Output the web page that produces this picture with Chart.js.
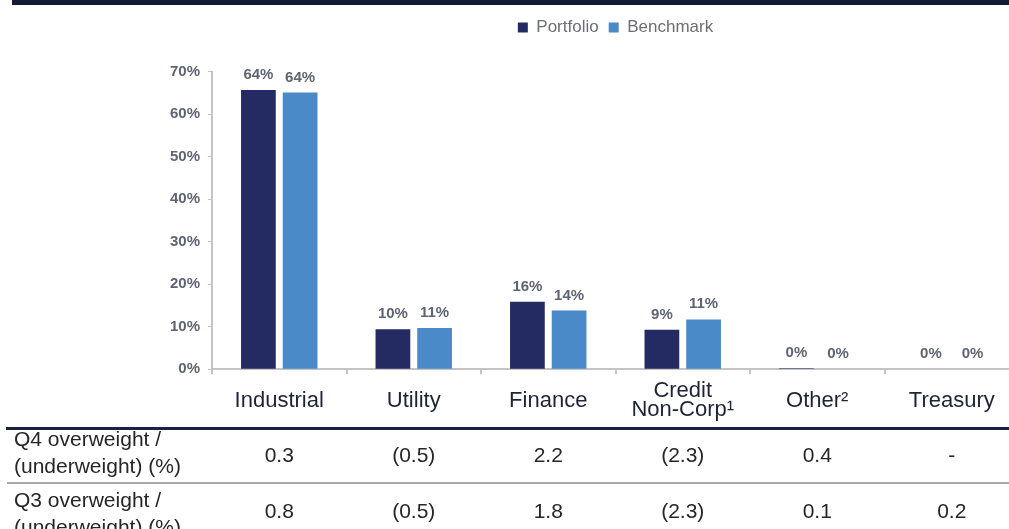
<!DOCTYPE html>
<html>
<head>
<meta charset="utf-8">
<script src="https://cdn.jsdelivr.net/npm/chart.js@4.4.1/dist/chart.umd.min.js"></script>
<style>
  html, body { margin: 0; padding: 0; background: #fff; overflow: hidden; }
  #wrap { width: 1022px; height: 529px; position: relative; }
</style>
</head>
<body>
<div id="wrap"><canvas id="myChart"></canvas></div>
<script>
const categories = ['Industrial', 'Utility', 'Finance', ['Credit', 'Non-Corp¹'], 'Other²', 'Treasury'];
const portfolio = [65.7, 9.4, 15.9, 9.3, 0.2, 0];
const benchmark = [65.1, 9.7, 13.8, 11.7, 0, 0];
// printed labels on top of the bars
const portfolioLabels = ['64%', '10%', '16%', '9%', '0%', '0%'];
const benchmarkLabels = ['64%', '11%', '14%', '11%', '0%', '0%'];
// overweight / (underweight) table, null = '-'
const q4Diff = [0.3, -0.5, 2.2, -2.3, 0.4, null];
const q3Diff = [0.8, -0.5, 1.8, -2.3, 0.1, 0.2];
const rowLabels = [['Q4 overweight /', '(underweight) (%)'], ['Q3 overweight /', '(underweight) (%)']];

Chart.defaults.font.family = "'Liberation Sans', Arial, sans-serif";

function fmtDiff(v) {
    if (v === null) return '-';
    return v < 0 ? '(' + Math.abs(v).toFixed(1) + ')' : v.toFixed(1);
}

const barLabels = {
    id: 'barLabels',
    afterDatasetsDraw(chart) {
        const ctx = chart.ctx;
        const texts = [portfolioLabels, benchmarkLabels];
        ctx.save();
        ctx.font = "bold 15px 'Liberation Sans'";
        ctx.fillStyle = '#5f6472';
        ctx.textAlign = 'center';
        ctx.textBaseline = 'alphabetic';
        chart.data.datasets.forEach((ds, d) => {
            chart.getDatasetMeta(d).data.forEach((bar, i) => {
                ctx.fillText(texts[d][i], bar.x, bar.y - 11);
            });
        });
        ctx.restore();
    }
};

const diffTable = {
    id: 'diffTable',
    afterDraw(chart) {
        const ctx = chart.ctx;
        const xs = chart.scales.x;
        ctx.save();
        // header rule + table rules
        ctx.fillStyle = '#141a35';
        ctx.fillRect(12, 0, 1010, 5);
        ctx.fillStyle = '#1b2141';
        ctx.fillRect(6, 427, 1016, 3);
        ctx.fillStyle = '#a9a9a9';
        ctx.fillRect(7, 482, 1015, 2);

        ctx.font = "21px 'Liberation Sans'";
        ctx.fillStyle = '#262626';
        ctx.textBaseline = 'alphabetic';
        const rows = [q4Diff, q3Diff];
        const labelBase = [446, 507];
        const valueBase = [462, 518];
        rows.forEach((row, r) => {
            ctx.textAlign = 'left';
            ctx.fillText(rowLabels[r][0], 14, labelBase[r]);
            ctx.fillText(rowLabels[r][1], 14, labelBase[r] + 27);
            ctx.textAlign = 'center';
            row.forEach((v, i) => {
                ctx.fillText(fmtDiff(v), xs.getPixelForValue(i), valueBase[r]);
            });
        });
        ctx.restore();
    }
};

new Chart(document.getElementById('myChart'), {
    type: 'bar',
    data: {
        labels: categories,
        datasets: [
            {
                label: 'Portfolio',
                data: portfolio,
                backgroundColor: '#242b62',
                categoryPercentage: 0.62,
                barPercentage: 0.833,
            },
            {
                label: 'Benchmark',
                data: benchmark,
                backgroundColor: '#4a8ac8',
                categoryPercentage: 0.62,
                barPercentage: 0.833,
            },
        ],
    },
    options: {
        responsive: true,
        maintainAspectRatio: false,
        animation: false,
        layout: { padding: { top: 9, left: 0, right: 3, bottom: 82.4 } },
        plugins: {
            legend: {
                position: 'top',
                fullSize: false,
                labels: {
                    boxWidth: 10,
                    boxHeight: 10,
                    padding: 10,
                    color: '#6b6e73',
                    font: { size: 17 },
                },
            },
            // empty spacer between legend and plot
            subtitle: {
                display: true,
                text: '',
                weight: 100,
                fullSize: false,
                font: { size: 10, lineHeight: 1 },
                padding: { top: 0, bottom: 15.7 },
            },
            tooltip: { enabled: false },
        },
        scales: {
            x: {
                grid: { drawOnChartArea: false, tickLength: 5, color: '#c4c4c4', lineWidth: 2 },
                border: { color: '#c4c4c4', width: 2 },
                ticks: {
                    color: '#1e2436',
                    font: { size: 22, lineHeight: '19.5px' },
                    padding: 16.7,
                    crossAlign: 'center',
                    maxRotation: 0,
                    autoSkip: false,
                },
            },
            y: {
                min: 0,
                max: 70,
                afterFit(scale) { scale.width = 212; },
                grid: { drawOnChartArea: false, tickLength: 4, color: '#c4c4c4' },
                border: { color: '#c4c4c4', width: 2 },
                ticks: {
                    stepSize: 10,
                    padding: 8,
                    color: '#5f6472',
                    font: { size: 15, weight: 'bold' },
                    callback: (v) => v + '%',
                },
            },
        },
    },
    plugins: [barLabels, diffTable],
});
</script>
</body>
</html>
